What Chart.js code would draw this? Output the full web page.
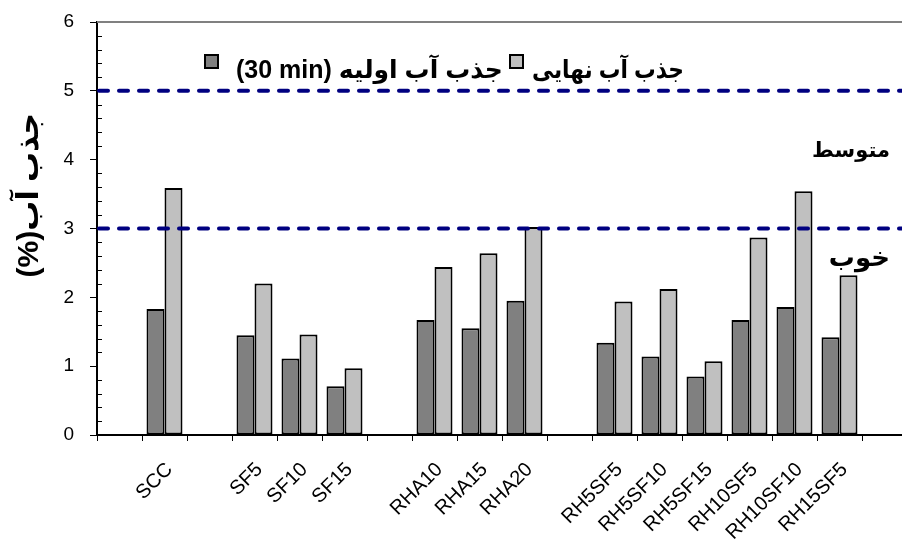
<!DOCTYPE html>
<html>
<head>
<meta charset="utf-8">
<script src="https://cdn.jsdelivr.net/npm/chart.js@4.4.1/dist/chart.umd.min.js"></script>
<style>
  html, body { margin: 0; padding: 0; background: #fff; overflow: hidden; }
  #chart { display: block; direction: rtl; }
</style>
</head>
<body>
<canvas id="chart" width="930" height="560"></canvas>
<script>
// blank categories are the gaps between the groups
const categories = ['', 'SCC', '', 'SF5', 'SF10', 'SF15', '', 'RHA10', 'RHA15', 'RHA20', '',
  'RH5SF5', 'RH5SF10', 'RH5SF15', 'RH10SF5', 'RH10SF10', 'RH15SF5', ''];
const initialAbsorption = [null, 1.83, null, 1.45, 1.11, 0.71, null, 1.67, 1.55, 1.95, null,
  1.34, 1.14, 0.85, 1.67, 1.86, 1.42, null];
const finalAbsorption = [null, 3.59, null, 2.20, 1.46, 0.97, null, 2.44, 2.64, 3.02, null,
  1.94, 2.12, 1.07, 2.87, 3.54, 2.32, null];
const limitValues = [5, 3];
const zoneNames = ['متوسط', 'خوب'];
const zoneValues = [4.12, 2.56];
const zoneSizes = [21, 26];

const fam = '"Liberation Sans", "DejaVu Sans", sans-serif';

const isWhole = v => Math.abs(v - Math.round(v)) < 1e-6;

// frame, dashed limits, minor ticks, zone labels and legend
const decor = {
  id: 'decor',
  afterDatasetsDraw(chart) {
    const ctx = chart.ctx;
    const a = chart.chartArea;
    const y = chart.scales.y;
    ctx.save();
    // top frame
    ctx.strokeStyle = '#808080';
    ctx.lineWidth = 2;
    ctx.beginPath();
    ctx.moveTo(a.left, a.top);
    ctx.lineTo(a.right, a.top);
    ctx.stroke();
    // minor ticks inside the y axis
    ctx.strokeStyle = '#000';
    ctx.lineWidth = 1;
    y.ticks.forEach(t => {
      if (isWhole(t.value)) return;
      const py = Math.round(y.getPixelForValue(t.value)) + 0.5;
      ctx.beginPath();
      ctx.moveTo(a.left, py);
      ctx.lineTo(a.left + 5, py);
      ctx.stroke();
    });
    // limit lines
    ctx.strokeStyle = '#000080';
    ctx.lineWidth = 4;
    ctx.lineCap = 'round';
    ctx.setLineDash([9, 11]);
    limitValues.forEach(v => {
      const py = y.getPixelForValue(v);
      ctx.beginPath();
      ctx.moveTo(a.left + 2, py);
      ctx.lineTo(a.right, py);
      ctx.stroke();
    });
    ctx.setLineDash([]);
    // zone labels
    ctx.fillStyle = '#000';
    ctx.textAlign = 'right';
    ctx.textBaseline = 'middle';
    zoneNames.forEach((s, i) => {
      ctx.font = 'bold ' + zoneSizes[i] + 'px ' + fam;
      ctx.fillText(s, 890, y.getPixelForValue(zoneValues[i]));
    });
    ctx.restore();
  },
  afterDraw(chart) {
    const ctx = chart.ctx;
    ctx.save();
    ctx.direction = 'ltr';
    ctx.font = 'bold 25px ' + fam;
    ctx.textAlign = 'left';
    ctx.textBaseline = 'alphabetic';
    const boxX = [205, 510];
    const gaps = [18, 9];
    const maxW = [275, 152];
    chart.data.datasets.forEach((ds, i) => {
      const x = boxX[i];
      ctx.fillStyle = ds.backgroundColor;
      ctx.fillRect(x, 55, 13, 13);
      ctx.strokeStyle = '#000';
      ctx.lineWidth = 2;
      ctx.strokeRect(x, 55, 13, 13);
      ctx.fillStyle = '#000';
      ctx.fillText(ds.label, x + 13 + gaps[i], 78, maxW[i]);
    });
    ctx.restore();
  }
};

new Chart(document.getElementById('chart'), {
  type: 'bar',
  data: {
    labels: categories,
    datasets: [{
      label: '(30 min) جذب آب اولیه',
      data: initialAbsorption,
      backgroundColor: '#808080',
      borderColor: '#000',
      borderWidth: 2,
      borderSkipped: false,
      categoryPercentage: 0.8,
      barPercentage: 1.0
    }, {
      label: 'جذب آب نهایی',
      data: finalAbsorption,
      backgroundColor: '#C0C0C0',
      borderColor: '#000',
      borderWidth: 2,
      borderSkipped: false,
      categoryPercentage: 0.8,
      barPercentage: 1.0
    }]
  },
  options: {
    responsive: false,
    animation: false,
    devicePixelRatio: 1,
    layout: { padding: { left: 6, top: 22, right: 23, bottom: 0 } },
    plugins: {
      legend: { display: false },
      tooltip: { enabled: false }
    },
    scales: {
      x: {
        afterFit: s => { s.height = 125; },
        ticks: {
          autoSkip: false, minRotation: 45, maxRotation: 45, padding: 17, labelOffset: 5,
          color: '#000', font: { size: 20, family: fam }
        },
        grid: { offset: true, drawOnChartArea: false, tickLength: 6, tickColor: '#000', tickWidth: 1 },
        border: { color: '#000', width: 2 }
      },
      y: {
        min: 0, max: 6,
        afterFit: s => { s.width = 91; s.paddingTop = 10; s.paddingBottom = 10; },
        ticks: {
          stepSize: 0.2, autoSkip: false, padding: 16, color: '#000',
          font: { size: 19, family: fam },
          callback: v => isWhole(v) ? Math.round(v) : ''
        },
        grid: {
          drawOnChartArea: false, tickLength: 7, tickWidth: 1,
          tickColor: c => isWhole(c.tick.value) ? '#000' : 'rgba(0,0,0,0)'
        },
        border: { color: '#000', width: 2 },
        title: {
          display: true,
          text: 'جذب آب(%)        ',
          color: '#000',
          font: { size: 30, weight: 'bold', family: fam },
          padding: { top: 6, bottom: 10 }
        }
      }
    }
  },
  plugins: [decor]
});
</script>
</body>
</html>
